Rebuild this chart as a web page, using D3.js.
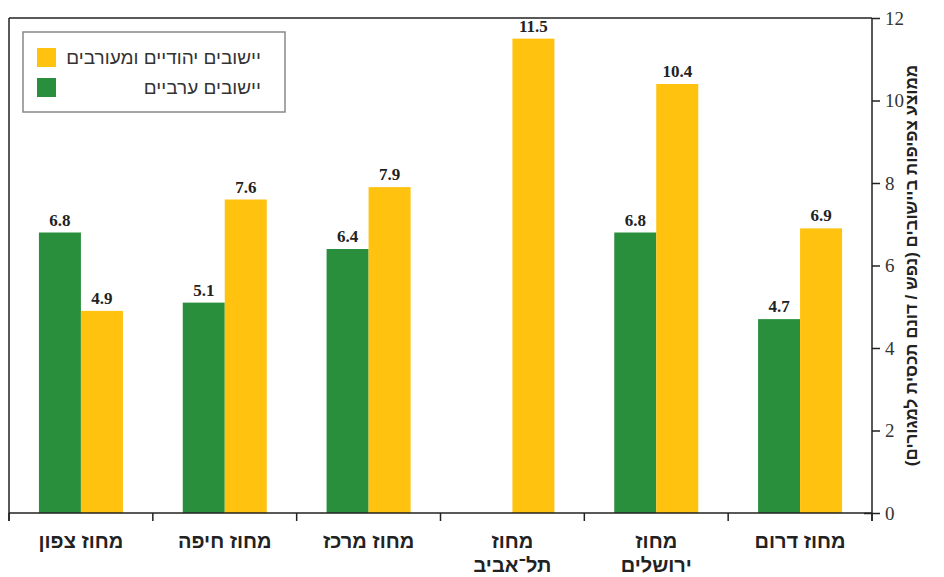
<!DOCTYPE html>
<html><head><meta charset="utf-8">
<script src="https://cdn.jsdelivr.net/npm/d3@7"></script>
<style>body{margin:0;background:#fff}svg{display:block}</style>
</head><body>
<svg id="c" width="944" height="577"></svg>
<script>
const categories = [["מחוז צפון"],["מחוז חיפה"],["מחוז מרכז"],["מחוז","תל־אביב"],["מחוז","ירושלים"],["מחוז דרום"]];
const arabValues = [6.8, 5.1, 6.4, null, 6.8, 4.7];
const jewishValues = [4.9, 7.6, 7.9, 11.5, 10.4, 6.9];
const seriesNames = ["יישובים יהודיים ומעורבים", "יישובים ערביים"];
const yTicks = [0, 2, 4, 6, 8, 10, 12];
const yTitle = "ממוצע צפיפות ביישובים (נפש / דונם תכסית למגורים)";

const GREEN = "#2a8f3d", YELLOW = "#ffc20e";
const svg = d3.select("#c");
const L = 9, R = 872, T = 18, B = 513;
const x = d3.scaleBand().domain(d3.range(categories.length)).range([L, R]);
const y = d3.scaleLinear().domain([0, 12]).range([B, T]);
const bw = 42;

const data = categories.map((c, i) => ({i, arab: arabValues[i], jew: jewishValues[i]}));

const g = svg.append("g");
function label(xx, v) {
  g.append("text").attr("x", xx).attr("y", y(v) - 7).attr("text-anchor", "middle")
    .attr("font-family", "Liberation Serif").attr("font-weight", "bold").attr("font-size", 17).attr("fill", "#222").text(v.toFixed(1));
}
data.forEach(d => {
  const cx = x(d.i) + x.bandwidth() / 2;
  if (d.arab != null) {
    g.append("rect").attr("x", cx - bw).attr("width", bw).attr("y", y(d.arab)).attr("height", y(0) - y(d.arab)).attr("fill", GREEN);
    label(cx - bw / 2, d.arab);
  }
  g.append("rect").attr("x", cx).attr("width", bw).attr("y", y(d.jew)).attr("height", y(0) - y(d.jew)).attr("fill", YELLOW);
  label(cx + bw / 2, d.jew);
});

svg.append("line").attr("x1", L).attr("x2", R).attr("y1", T).attr("y2", T).attr("stroke", "#222").attr("stroke-width", 1.5);
svg.append("line").attr("x1", L).attr("x2", L).attr("y1", T).attr("y2", B + 8).attr("stroke", "#222").attr("stroke-width", 1.5);

const xAxis = svg.append("g").attr("transform", `translate(0,${B})`);
xAxis.append("line").attr("x1", L).attr("x2", R).attr("stroke", "#222").attr("stroke-width", 1.5);
d3.range(categories.length + 1).forEach(k => {
  const xx = k < categories.length ? x(k) : R;
  xAxis.append("line").attr("x1", xx).attr("x2", xx).attr("y1", 0).attr("y2", 8).attr("stroke", "#222").attr("stroke-width", 1.5);
});
categories.forEach((c, i) => {
  const t = svg.append("text").attr("text-anchor", "middle").attr("font-family", "Liberation Sans").attr("font-weight", "bold")
    .attr("font-size", 20).attr("fill", "#222").attr("direction", "rtl");
  c.forEach((line, j) => {
    t.append("tspan").attr("x", x(i) + x.bandwidth() / 2).attr("y", 548 + j * 24).text(line);
  });
});

const yAxis = d3.axisRight(y).tickValues(yTicks).tickSize(8).tickPadding(5).tickFormat(d3.format("d"));
const ya = svg.append("g").attr("transform", `translate(${R},0)`).call(yAxis);
ya.select(".domain").attr("stroke", "#222").attr("stroke-width", 1.5).attr("d", `M0,${T}V${B + 8}`);
ya.selectAll(".tick line").attr("stroke", "#222").attr("stroke-width", 1.5);
ya.selectAll(".tick").filter(d => d === 0).select("line").attr("x1", -8);
ya.selectAll(".tick text").attr("font-family", "Liberation Serif").attr("font-size", 19).attr("fill", "#333");

svg.append("text").attr("transform", `translate(917,${(T + B) / 2}) rotate(-90)`).attr("text-anchor", "middle")
  .attr("direction", "rtl").attr("font-family", "Liberation Sans").attr("font-weight", "bold").attr("font-size", 17).attr("fill", "#222").text(yTitle);

const lg = svg.append("g");
lg.append("rect").attr("x", 23).attr("y", 32).attr("width", 262).attr("height", 80).attr("fill", "#fff").attr("stroke", "#888").attr("stroke-width", 1.5);
[[YELLOW, seriesNames[0], 48], [GREEN, seriesNames[1], 78]].forEach(([col, name, yy]) => {
  lg.append("rect").attr("x", 37).attr("y", yy).attr("width", 19).attr("height", 19).attr("fill", col);
  lg.append("text").attr("x", 261).attr("y", yy + 16).attr("text-anchor", "start").attr("direction", "rtl")
    .attr("font-family", "Liberation Sans").attr("font-size", 19).attr("fill", "#333").text(name);
});
</script>
</body></html>
